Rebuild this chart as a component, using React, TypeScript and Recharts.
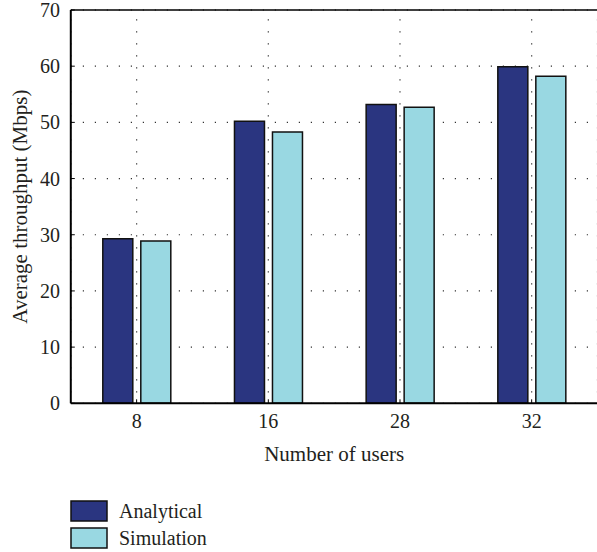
import React from 'react';
import {
  BarChart,
  Bar,
  XAxis,
  YAxis,
  CartesianGrid,
  ReferenceLine,
  Legend,
  Label,
} from 'recharts';

// Number of users on the x axis
const categories: string[] = ['8', '16', '28', '32'];
// Average throughput (Mbps) per user count
const analytical: number[] = [29.3, 50.2, 53.2, 59.9];
const simulation: number[] = [28.9, 48.3, 52.7, 58.2];
const yTicks: number[] = [0, 10, 20, 30, 40, 50, 60, 70];

const data = categories.map((c, i) => ({
  users: c,
  Analytical: analytical[i],
  Simulation: simulation[i],
}));

const FONT = '"Liberation Serif", "DejaVu Serif", serif';
const TEXT = '#231f20';
const NAVY = '#2a3580';
const CYAN = '#99d8e2';
const EDGE = '#111111';

const renderLegend = (props: any) => {
  const items = props.payload || [];
  return (
    <div style={{ fontFamily: FONT, color: TEXT }}>
      {items.map((p: any) => (
        <div
          key={p.value}
          style={{ display: 'flex', alignItems: 'center', height: 27 }}
        >
          <svg width={38} height={22} style={{ display: 'block' }}>
            <rect x={1} y={1} width={36} height={20} fill={p.color} stroke={EDGE} strokeWidth={1.5} />
          </svg>
          <span style={{ marginLeft: 11, fontSize: 20, lineHeight: '22px' }}>{p.value}</span>
        </div>
      ))}
    </div>
  );
};

const YTitle = (props: any) => {
  const vb = props.viewBox || { x: 0, y: 0, width: 0, height: 0 };
  const cx = vb.x + 20;
  const cy = vb.y + vb.height / 2;
  return (
    <text
      x={cx}
      y={cy}
      transform={`rotate(-90, ${cx}, ${cy})`}
      textAnchor="middle"
      dominantBaseline="central"
      fontSize={21}
      fontFamily={FONT}
      fill={TEXT}
    >
      Average throughput (Mbps)
    </text>
  );
};

export default function App() {
  return (
    <div
      style={{
        position: 'fixed',
        left: 0,
        top: 0,
        width: 597,
        height: 552,
        overflow: 'hidden',
        background: '#ffffff',
      }}
    >
      <BarChart
        width={608}
        height={552}
        data={data}
        margin={{ top: 10, right: 0, bottom: 88.7, left: 0 }}
        barSize={30}
        barGap={8}
        style={{ fontFamily: FONT }}
      >
        <CartesianGrid
          yAxisId="left"
          horizontal
          vertical={false}
          stroke="#333"
          strokeWidth={1.2}
          strokeDasharray="1.2 10.8"
        />
        <CartesianGrid
          yAxisId="left"
          horizontal={false}
          vertical
          stroke="#333"
          strokeWidth={1.2}
          strokeDasharray="1.2 10.8"
          strokeDashoffset={2.7}
        />
        <XAxis
          dataKey="users"
          height={60}
          axisLine={{ stroke: '#000', strokeWidth: 2 }}
          tickLine={{ stroke: '#000', strokeWidth: 1 }}
          tickSize={-4}
          tickMargin={14.8}
          tick={{ fill: TEXT, fontSize: 20, fontFamily: FONT }}
        >
          <Label
            value="Number of users"
            position="insideTop"
            offset={42.5}
            fill={TEXT}
            fontSize={21}
            fontFamily={FONT}
          />
        </XAxis>
        <YAxis
          yAxisId="left"
          width={70.8}
          domain={[0, 70]}
          ticks={yTicks}
          interval={0}
          axisLine={{ stroke: '#000', strokeWidth: 2 }}
          tickLine={{ stroke: '#000', strokeWidth: 1 }}
          tickSize={-4}
          tickMargin={14.8}
          tick={{ fill: TEXT, fontSize: 20, fontFamily: FONT }}
        >
          <Label content={<YTitle />} />
        </YAxis>
        <YAxis
          yAxisId="right"
          orientation="right"
          width={10.5}
          domain={[0, 70]}
          ticks={yTicks}
          interval={0}
          axisLine={false}
          tickLine={{ stroke: '#000', strokeWidth: 1 }}
          tickSize={-4}
          tick={() => <g />}
        />
        <ReferenceLine yAxisId="left" y={70} stroke="#000" strokeWidth={1.5} />
        <Legend
          layout="vertical"
          align="center"
          verticalAlign="middle"
          content={renderLegend}
          wrapperStyle={{ left: 70, top: 497, width: 'auto' }}
        />
        <Bar
          yAxisId="left"
          dataKey="Analytical"
          fill={NAVY}
          stroke={EDGE}
          strokeWidth={1.5}
          isAnimationActive={false}
        />
        <Bar
          yAxisId="left"
          dataKey="Simulation"
          fill={CYAN}
          stroke={EDGE}
          strokeWidth={1.5}
          isAnimationActive={false}
        />
      </BarChart>
    </div>
  );
}
